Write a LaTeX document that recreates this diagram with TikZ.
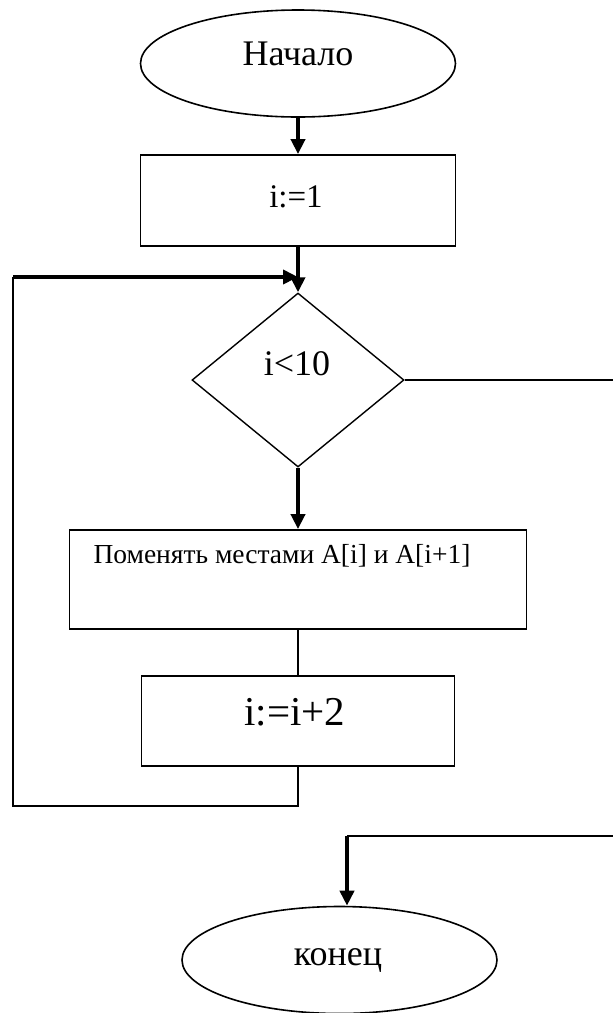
\documentclass[tikz,border=0pt]{standalone}
\usepackage{fontspec}
\setmainfont{Liberation Serif}
\usetikzlibrary{shapes.geometric,arrows.meta}
\begin{document}
\begin{tikzpicture}[x=1pt,y=-1pt,
  term/.style={ellipse, draw, line width=1.6pt, minimum width=315pt, minimum height=107pt, inner sep=0pt},
  procbox/.style={rectangle, draw, line width=1.8pt, inner sep=0pt},
  decision/.style={diamond, draw, line width=1.4pt, inner sep=0pt},
  lbl/.style={inner sep=0pt},
  flowarrow/.style={line width=4pt, -{Triangle[length=15pt,width=14pt]}},
  thinline/.style={line width=2pt}]
\useasboundingbox (0,0) rectangle (613,1013);
\clip (0,0) rectangle (613,1013);
\fill[white] (0,0) rectangle (613,1013);

\node[term] (start) at (298,63.5) {};
\node[lbl, font=\fontsize{36}{40}\selectfont] (starttext) at (298,54) {Начало};

\node[procbox, minimum width=315pt, minimum height=91pt] (init) at (298,200.5) {};
\node[lbl, font=\fontsize{33}{38}\selectfont] (inittext) at (296,197) {i:=1};

\node[decision, minimum width=212pt, minimum height=174pt] (cond) at (298,380) {};
\node[lbl, font=\fontsize{36}{40}\selectfont] (condtext) at (297,364) {i<10};

\node[procbox, minimum width=457pt, minimum height=99pt] (swap) at (298,579.5) {};
\node[lbl, font=\fontsize{27.5}{32}\selectfont] (swaptext) at (282,556) {Поменять местами A[i] и A[i+1]};

\node[procbox, minimum width=313pt, minimum height=90pt] (incr) at (298,721) {};
\node[lbl, font=\fontsize{41}{46}\selectfont] (incrtext) at (295,712) {i:=i+2};

\node[term] (stop) at (339.5,960) {};
\node[lbl, font=\fontsize{36}{40}\selectfont] (stoptext) at (338,960) {конец};

\coordinate (join) at (298,277);
\coordinate (loopcorner) at (13,277);
\coordinate (endcorner) at (347,836);

\draw[flowarrow] (start.south) -- (init.north);
\draw[flowarrow] (init.south) -- (cond.north);
\draw[flowarrow] (cond.south) -- (swap.north);
\draw[thinline] (swap.south) -- (incr.north);
\draw[thinline] (incr.south) -- ++(0,39) -| (loopcorner);
\draw[flowarrow] (loopcorner) -- (join);
\draw[thinline] (cond.east) -- ++(340,0) |- (endcorner);
\draw[flowarrow] (endcorner) -- (endcorner |- stop.north);
\end{tikzpicture}
\end{document}
